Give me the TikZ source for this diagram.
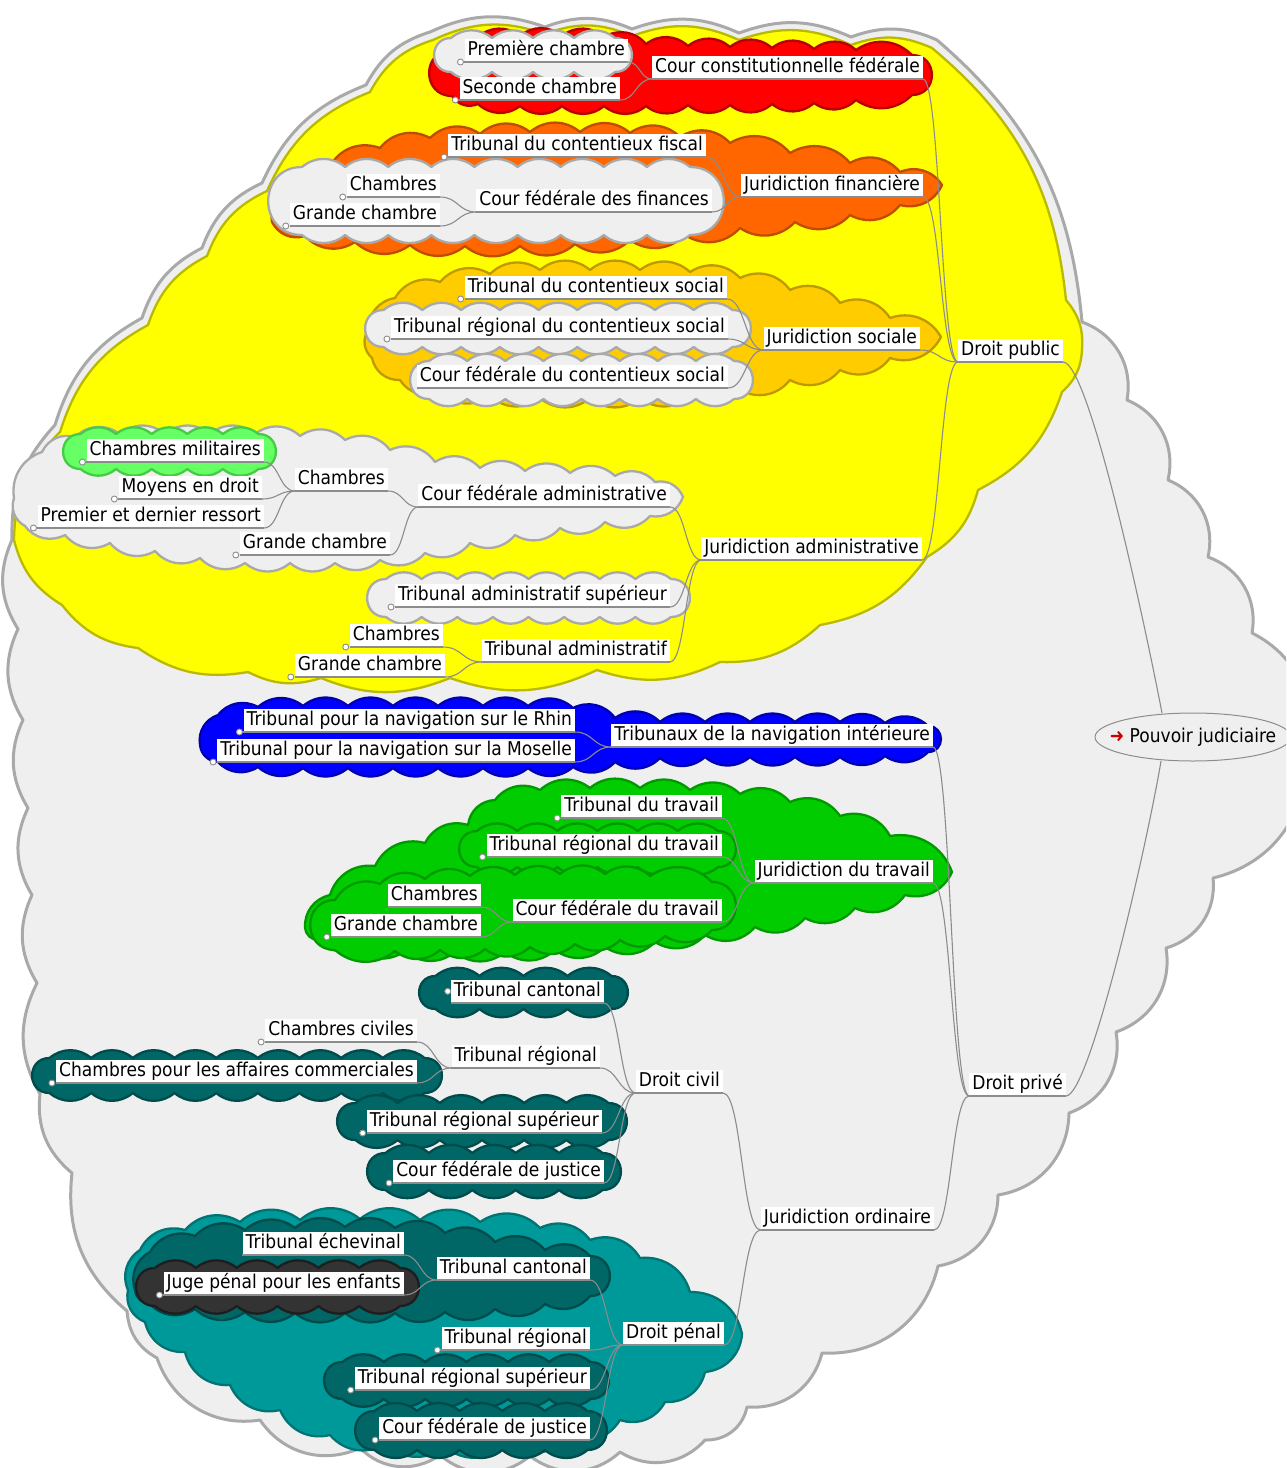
\documentclass[tikz,border=0pt]{standalone}
\usepackage{fontspec}
\setmainfont{DejaVu Sans}[FakeStretch=0.9]
\usetikzlibrary{shapes.geometric,calc}
\definecolor{cgf}{HTML}{EFEFEF}
\definecolor{cgd}{HTML}{A9A9A9}
\definecolor{cyf}{HTML}{FFFF00}
\definecolor{cyd}{HTML}{B9B900}
\definecolor{crf}{HTML}{FF0000}
\definecolor{crd}{HTML}{B80000}
\definecolor{cof}{HTML}{FF6600}
\definecolor{cod}{HTML}{BF4C00}
\definecolor{cgof}{HTML}{FFCC00}
\definecolor{cgod}{HTML}{BF9900}
\definecolor{clf}{HTML}{66FF66}
\definecolor{cld}{HTML}{44CC44}
\definecolor{cbf}{HTML}{0000FF}
\definecolor{cbd}{HTML}{0000B0}
\definecolor{cgrf}{HTML}{00CC00}
\definecolor{cgrd}{HTML}{009900}
\definecolor{ctf}{HTML}{006666}
\definecolor{ctd}{HTML}{004C4C}
\definecolor{cttf}{HTML}{009999}
\definecolor{cttd}{HTML}{007373}
\definecolor{ckf}{HTML}{333333}
\definecolor{ckd}{HTML}{1E1E1E}
\definecolor{linec}{HTML}{8C8C8C}
\definecolor{arrowred}{HTML}{CC0000}
\newcommand\mmcloud[6]{%
  \pgfmathsetmacro\mmh{#4-#2-14}%
  \pgfmathsetmacro\mma{#1+\mmh/2}%
  \pgfmathsetmacro\mmb{#3-\mmh/2}%
  \pgfmathsetmacro\mmt{#2+7}%
  \pgfmathsetmacro\mmu{#4-7}%
  \pgfmathsetmacro\mms{(\mmb-\mma)/#5}%
  \path[#6] (\mma,\mmt)
    \foreach \ci in {1,...,#5}{ to[bmp] ({\mma+\ci*\mms},\mmt) }
    to[capend] (\mmb,\mmu)
    \foreach \ci in {1,...,#5}{ to[bmp] ({\mmb-\ci*\mms},\mmu) }
    to[capend] (\mma,\mmt) -- cycle;%
}
\newcommand\mmcon[2]{\draw[conn] let \p1=(#1.south east), \p2=(#2.south west) in (\p1) .. controls ({(\x1+\x2)/2},\y1) and ({(\x1+\x2)/2},\y2) .. (\p2);}
\begin{document}
\begin{tikzpicture}[x=1pt,y=-1pt,
  bmp/.style={bend left=40},
  midbmp/.style={bend left=28},
  bigbmp/.style={bend left=22},
  capend/.style={bend left=90,looseness=1.7},
  cl/.style={line width=2.3pt,line join=round},
  clbig/.style={line width=3pt,line join=round,fill=cgf,draw=cgd},
  clgray/.style={cl,fill=cgf,draw=cgd},
  clyel/.style={cl,fill=cyf,draw=cyd},
  clred/.style={cl,fill=crf,draw=crd},
  clor/.style={cl,fill=cof,draw=cod},
  clgold/.style={cl,fill=cgof,draw=cgod},
  cllime/.style={cl,fill=clf,draw=cld},
  clblue/.style={cl,fill=cbf,draw=cbd},
  clgreen/.style={cl,fill=cgrf,draw=cgrd},
  clteal/.style={cl,fill=ctf,draw=ctd},
  clcyan/.style={cl,fill=cttf,draw=cttd},
  cldark/.style={cl,fill=ckf,draw=ckd},
  nd/.style={fill=white,inner xsep=3pt,inner ysep=2pt,text height=14.5pt,text depth=4.5pt,font=\fontsize{19}{22}\selectfont,anchor=south east},
  conn/.style={draw=linec,line width=1.1pt},
  knob/.style={draw=linec,fill=white,line width=0.9pt}
]
\useasboundingbox (0,0) rectangle (1286,1468);
\clip (0,0) rectangle (1286,1468);
\fill[white] (0,0) rectangle (1286,1468);

% big gray cloud
\path[clbig] (55,425) \foreach \px/\py in {142/318,202/248,262/183,366/85,430/32,545/27,632/29,739/33,851/37,937/40,1082/322}{ to[bigbmp] (\px,\py) }
  \foreach \px/\py in {1127/400,1168/480,1208/557,1252/633,1305/755,1213/878,1166/948,1116/1032,1069/1113,998/1195,938/1266,822/1353,747/1407,705/1440,620/1452,530/1456,440/1455,360/1448,260/1420,157/1358}{ to[bmp] (\px,\py) }
  \foreach \px/\py in {127/1311,72/1173,40/1094,37/983,32/895,28/808,23/720,18/629,12/540}{ to[midbmp] (\px,\py) }
  to[bigbmp] (55,425) -- cycle;

% yellow cloud (Droit public)
\path[clyel] (60,432) \foreach \px/\py in {148/325,207/256,267/191,370/92,433/40,545/34,632/36,739/40,851/45,932/48,1066/300,1082/350,1062/392,978/490,927/557,820/625,720/662,597/670,450/678,321/678,248/672,138/648,62/605,14/540,60/432}{ to[bigbmp] (\px,\py) } -- cycle;

% red cloud
\path[clred] (452,50) \foreach \px/\py in {478/37,520/36,562/36,604/37,646/44,688/46,730/47,772/48,814/49,856/50,912/55}{ to[bmp] (\px,\py) }
  to[capend] (912,95) \foreach \px/\py in {856/100,814/103,772/104,730/105,688/105,646/106,604/106,562/106,520/106,478/104,452/96}{ to[bmp] (\px,\py) }
  to[capend] (452,50) -- cycle;
\mmcloud{434}{31}{632}{79}{4}{clgray}

% orange cloud
\path[clor] (272,222) \foreach \px/\py in {290/190,330/166,380/148,430/138,480/134,530/132,580/132,630/133,680/137,730/143,790/153,850/163,900/172,942/185,900/205,850/215,795/222,740/228,685/235,630/240,575/244,520/246,465/246,410/245,355/242,305/236,272/222}{ to[bmp] (\px,\py) } -- cycle;
\mmcloud{268}{160}{724}{242}{9}{clgray}

% gold cloud
\path[clgold] (368,330) \foreach \px/\py in {395/298,440/282,490/274,540/270,590/270,640/270,690/272,740/278,790/290,840/303,890/318,941/337,890/358,840/370,790/380,740/390,690/396,640/398,590/398,540/398,490/396,440/392,400/380,372/358,368/330}{ to[bmp] (\px,\py) } -- cycle;
\mmcloud{365}{303}{751}{354}{9}{clgray}
\mmcloud{410}{354}{753}{406}{8}{clgray}

% administrative
\path[clgray] (42,452) \foreach \px/\py in {75/437,120/434,165/434,210/434,255/434,300/436,345/440,390/450,435/462,480/468,525/471,570/473,615/476,655/482,683/497,650/516,605/522,560/528,515/535,470/543,425/553,380/560,335/563,290/563,245/563,200/558,155/551,110/543,65/535,25/526,14/498,42/452}{ to[bmp] (\px,\py) } -- cycle;
\mmcloud{63}{427}{276}{476}{5}{cllime}
\mmcloud{367}{572}{690}{624}{8}{clgray}

% blue cloud
\path[clblue] (200,745) \foreach \px/\py in {218/715,258/707,303/706,348/706,393/706,438/706,483/706,528/706,573/708,615/718,660/722,705/722,750/722,795/722,840/722,885/723,928/726}{ to[bmp] (\px,\py) }
  to[capend] (928,752) \foreach \px/\py in {885/756,840/757,795/757,750/757,705/757,660/758,615/762,573/767,528/768,483/768,438/768,393/768,348/768,303/768,258/767,218/762,200/745}{ to[bmp] (\px,\py) } -- cycle;

% green cloud
\path[clgreen] (305,928) \foreach \px/\py in {330/895,375/866,425/843,468/825,495/800,540/790,590/788,640/788,690/790,740/794,790/802,840/816,890/836,952/872,905/895,855/908,805/918,755/927,705/935,655/942,605/947,555/950,505/952,455/952,405/951,355/947,318/940,305/928}{ to[bmp] (\px,\py) } -- cycle;
\mmcloud{459}{824}{736}{874}{6}{clgreen}
\path[clgreen] (335,900) \foreach \px/\py in {380/884,425/879,470/876,515/875,560/874,605/874,650/876,712/882}{ to[bmp] (\px,\py) }
  to[capend] (712,930) \foreach \px/\py in {665/936,620/940,575/944,530/947,485/949,440/950,395/951,335/950}{ to[bmp] (\px,\py) }
  to[capend] (335,900) -- cycle;

% civil clouds
\mmcloud{419}{969}{628}{1016}{4}{clteal}
\mmcloud{32}{1051}{442}{1100}{9}{clteal}
\mmcloud{337}{1096}{627}{1147}{6}{clteal}
\mmcloud{367}{1146}{621}{1197}{5}{clteal}

% penal clouds
\path[clcyan] (128,1290) \foreach \px/\py in {140/1250,185/1230,240/1222,300/1220,360/1219,420/1220,480/1222,540/1228,590/1240,640/1258,690/1292,742/1334,705/1372,665/1402,620/1420,565/1438,505/1446,445/1447,385/1444,330/1435,280/1410,230/1385,185/1352,145/1322,128/1290}{ to[bmp] (\px,\py) } -- cycle;
\path[clteal] (135,1290) \foreach \px/\py in {150/1252,195/1236,245/1230,295/1228,345/1227,395/1228,445/1233,495/1242,545/1250,590/1256}{ to[bmp] (\px,\py) }
  to[capend] (590,1296) \foreach \px/\py in {545/1304,495/1309,445/1312,395/1313,345/1313,295/1313,245/1312,195/1309,150/1304,135/1290}{ to[bmp] (\px,\py) } -- cycle;
\mmcloud{136}{1261}{419}{1313}{6}{cldark}
\mmcloud{324}{1355}{609}{1406}{6}{clteal}
\mmcloud{355}{1404}{607}{1457}{5}{clteal}

% root
\draw[draw=linec,fill=cgf,line width=1pt] (1193,737) ellipse [x radius=98,y radius=24];
\node[inner sep=0pt,font=\fontsize{19}{22}\selectfont] (root) at (1193,737) {\textcolor{arrowred}{➜}\ Pouvoir judiciaire};
\coordinate (rtop) at (1162,713);
\coordinate (rbot) at (1161,761);

% nodes
\node[nd] (dpub) at (1063,362) {Droit public};
\node[nd] (dpri) at (1066,1096) {Droit privé};
\node[nd] (ccf) at (923,79) {Cour constitutionnelle fédérale};
\node[nd] (pc) at (628,62) {Première chambre};
\node[nd] (sc) at (620,100) {Seconde chambre};
\node[nd] (jf) at (923,197) {Juridiction financière};
\node[nd] (tcf) at (706,157) {Tribunal du contentieux fiscal};
\node[nd] (cff) at (712,212) {Cour fédérale des finances};
\node[nd] (chf) at (440,197) {Chambres};
\node[nd] (gcf) at (440,226) {Grande chambre};
\node[nd] (js) at (920,350) {Juridiction sociale};
\node[nd] (tcs) at (727,299) {Tribunal du contentieux social};
\node[nd] (trcs) at (728,339) {Tribunal régional du contentieux social};
\node[nd] (cfcs) at (728,388) {Cour fédérale du contentieux social};
\node[nd] (ja) at (922,560) {Juridiction administrative};
\node[nd] (cfa) at (670,507) {Cour fédérale administrative};
\node[nd] (cha) at (388,491) {Chambres};
\node[nd] (cm) at (264,462) {Chambres militaires};
\node[nd] (md) at (262,499) {Moyens en droit};
\node[nd] (pdr) at (264,528) {Premier et dernier ressort};
\node[nd] (gca) at (390,555) {Grande chambre};
\node[nd] (tas) at (670,607) {Tribunal administratif supérieur};
\node[nd] (ta) at (670,662) {Tribunal administratif};
\node[nd] (cht) at (443,647) {Chambres};
\node[nd] (gct) at (445,677) {Grande chambre};
\node[nd] (tni) at (933,747) {Tribunaux de la navigation intérieure};
\node[nd] (tnr) at (575,732) {Tribunal pour la navigation sur le Rhin};
\node[nd] (tnm) at (575,762) {Tribunal pour la navigation sur la Moselle};
\node[nd] (jt) at (933,883) {Juridiction du travail};
\node[nd] (tt) at (722,818) {Tribunal du travail};
\node[nd] (trt) at (722,857) {Tribunal régional du travail};
\node[nd] (cft) at (722,922) {Cour fédérale du travail};
\node[nd] (chtr) at (481,907) {Chambres};
\node[nd] (gctr) at (481,937) {Grande chambre};
\node[nd] (jo) at (934,1230) {Juridiction ordinaire};
\node[nd] (dc) at (723,1093) {Droit civil};
\node[nd] (tcc) at (604,1003) {Tribunal cantonal};
\node[nd] (trc) at (600,1068) {Tribunal régional};
\node[nd] (chc) at (417,1042) {Chambres civiles};
\node[nd] (cac) at (417,1083) {Chambres pour les affaires commerciales};
\node[nd] (trsc) at (602,1133) {Tribunal régional supérieur};
\node[nd] (cfjc) at (604,1183) {Cour fédérale de justice};
\node[nd] (dp) at (724,1345) {Droit pénal};
\node[nd] (tcp) at (590,1280) {Tribunal cantonal};
\node[nd] (te) at (404,1255) {Tribunal échevinal};
\node[nd] (jpe) at (404,1295) {Juge pénal pour les enfants};
\node[nd] (trp) at (590,1350) {Tribunal régional};
\node[nd] (trsp) at (590,1390) {Tribunal régional supérieur};
\node[nd] (cfjp) at (590,1440) {Cour fédérale de justice};

% underlines
\foreach \n in {dpub,dpri,ccf,pc,sc,jf,tcf,cff,chf,gcf,js,tcs,trcs,cfcs,ja,cfa,cha,cm,md,pdr,gca,tas,ta,cht,gct,tni,tnr,tnm,jt,tt,trt,cft,chtr,gctr,jo,dc,tcc,trc,chc,cac,trsc,cfjc,dp,tcp,te,jpe,trp,trsp,cfjp}{\draw[conn] (\n.south west) -- (\n.south east);}

% connectors
\draw[conn] (dpub.south east) .. controls (1090,362) and (1148,640) .. (rtop);
\draw[conn] (dpri.south east) .. controls (1090,1096) and (1148,840) .. (rbot);
\mmcon{ccf}{dpub} \mmcon{jf}{dpub} \mmcon{js}{dpub} \mmcon{ja}{dpub}
\mmcon{pc}{ccf} \mmcon{sc}{ccf}
\mmcon{tcf}{jf} \mmcon{cff}{jf}
\mmcon{chf}{cff} \mmcon{gcf}{cff}
\mmcon{tcs}{js} \mmcon{trcs}{js} \mmcon{cfcs}{js}
\mmcon{cfa}{ja} \mmcon{tas}{ja} \mmcon{ta}{ja}
\mmcon{cha}{cfa} \mmcon{gca}{cfa}
\mmcon{cm}{cha} \mmcon{md}{cha} \mmcon{pdr}{cha}
\mmcon{cht}{ta} \mmcon{gct}{ta}
\mmcon{tni}{dpri} \mmcon{jt}{dpri} \mmcon{jo}{dpri}
\mmcon{tnr}{tni} \mmcon{tnm}{tni}
\mmcon{tt}{jt} \mmcon{trt}{jt} \mmcon{cft}{jt}
\mmcon{chtr}{cft} \mmcon{gctr}{cft}
\mmcon{dc}{jo} \mmcon{dp}{jo}
\mmcon{tcc}{dc} \mmcon{trc}{dc} \mmcon{trsc}{dc} \mmcon{cfjc}{dc}
\mmcon{chc}{trc} \mmcon{cac}{trc}
\mmcon{tcp}{dp} \mmcon{trp}{dp} \mmcon{trsp}{dp} \mmcon{cfjp}{dp}
\mmcon{te}{tcp} \mmcon{jpe}{tcp}

% knobs
\foreach \n in {pc,sc,tcf,chf,gcf,tcs,trcs,cm,md,pdr,gca,tas,cht,gct,tnr,tnm,tt,trt,gctr,chc,cac,trsc,cfjc,jpe,trp,trsp,cfjp}{\draw[knob] ([xshift=-4pt]\n.south west) circle[radius=3];}
\draw[knob] ([xshift=-3pt]tcc.west) circle[radius=3];
\end{tikzpicture}
\end{document}
